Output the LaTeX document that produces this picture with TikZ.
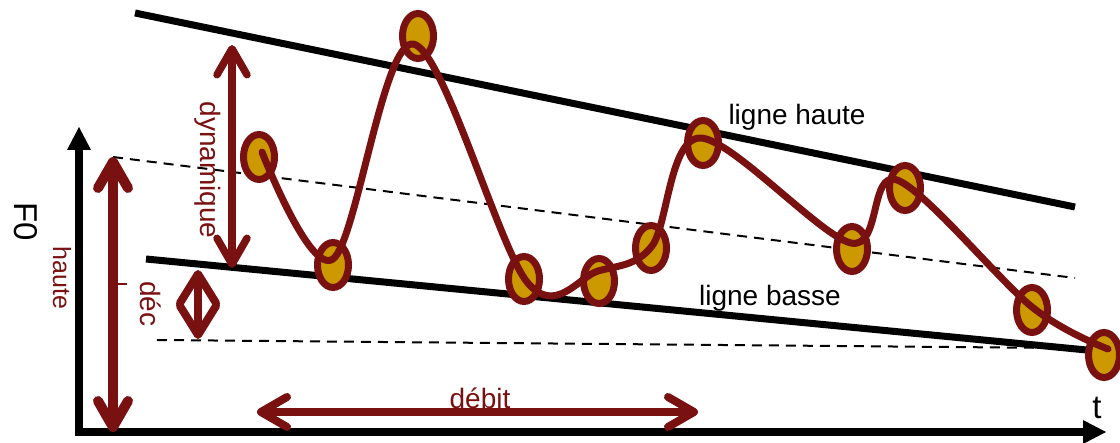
\documentclass[tikz,border=0pt]{standalone}
\usepackage{fontspec}
\setmainfont{Liberation Sans}
\usetikzlibrary{arrows.meta,shapes.geometric}
\definecolor{maroon}{RGB}{122,17,17}
\definecolor{gold}{RGB}{204,153,0}
\begin{document}
\begin{tikzpicture}[x=1pt,y=-1pt,
  axis/.style={line width=8pt,-{Triangle[length=23pt,width=24pt,line width=0pt]}},
  envline/.style={line width=7pt},
  refline/.style={line width=2pt,dash pattern=on 10pt off 7pt},
  dblarrow/.style={draw=maroon,line width=7.5pt,line cap=round,
    {Straight Barb[length=26pt,width=30pt,round]}-{Straight Barb[length=26pt,width=30pt,round]}},
  decarrow/.style={draw=maroon,line width=8pt,line cap=round,
    {Straight Barb[length=29pt,width=36pt,round]}-{Straight Barb[length=29pt,width=36pt,round]}},
  dot/.style={ellipse,draw=maroon,fill=gold,line width=7pt,minimum width=31pt,minimum height=45pt,inner sep=0pt},
  curve/.style={draw=maroon,line width=7pt,line cap=round,line join=round},
  lbl/.style={inner sep=0pt,font=\fontsize{28}{34}\selectfont},
  mlbl/.style={lbl,text=maroon}]
\useasboundingbox (0,0) rectangle (1120,443);
% reference (dashed) lines
\coordinate (du1) at (113,157);
\coordinate (du2) at (1075,278);
\coordinate (dl1) at (157,340);
\coordinate (dl2) at (1062,348);
\draw[refline] (du1) -- (du2);
\draw[refline] (dl1) -- (dl2);
% envelope lines
\coordinate (h1) at (135,13);
\coordinate (h2) at (1075,207);
\coordinate (b1) at (146,259);
\coordinate (b2) at (1097,351);
\draw[envline] (h1) -- (h2);
\draw[envline] (b1) -- (b2);
% axes
\coordinate (o1) at (79,436);
\coordinate (yt) at (79,127);
\coordinate (o2) at (75,432);
\coordinate (xt) at (1106,432);
\draw[axis] (o1) -- (yt);
\draw[axis] (o2) -- (xt);
% points
\node[dot] (p1) at (259,157) {};
\node[dot] (p2) at (333,265) {};
\node[dot] (p3) at (418,36) {};
\node[dot] (p4) at (524,279) {};
\node[dot] (p5) at (599,281) {};
\node[dot] (p6) at (651,248) {};
\node[dot] (p7) at (703,143) {};
\node[dot] (p8) at (852,249) {};
\node[dot] (p9) at (905,188) {};
\node[dot] (p10) at (1032,310) {};
\node[dot] (p11) at (1104,355) {};
% melodic curve
\draw[curve] plot[smooth,tension=0.55] coordinates {(262,152) (333,259) (413,44) (527,282) (598,271) (652,246) (700,138) (851,243) (897,180) (1032,307) (1108,349)};
% arrows
\coordinate (ha1) at (113,157);
\coordinate (ha2) at (113,432);
\draw[dblarrow,line width=10pt] (ha1) -- (ha2);
\coordinate (dy1) at (232,45);
\coordinate (dy2) at (232,268);
\draw[dblarrow] (dy1) -- (dy2);
\coordinate (dc1) at (198,270);
\coordinate (dc2) at (198,339);
\draw[decarrow] (dc1) -- (dc2);
\coordinate (db1) at (257,412);
\coordinate (db2) at (698,412);
\draw[dblarrow,line width=8pt] (db1) -- (db2);
\coordinate (tk1) at (118,284);
\coordinate (tk2) at (127,284);
\draw[maroon,line width=2.5pt] (tk1) -- (tk2);
% labels
\node[mlbl,rotate=-90] (ldyn) at (208,170) {dynamique};
\node[mlbl,rotate=-90,font=\fontsize{25}{30}\selectfont] (lhaute) at (62,278) {haute};
\node[mlbl,rotate=-90] (ldec) at (151,304) {déc};
\node[lbl,rotate=-90,font=\fontsize{33}{40}\selectfont] (lf0) at (26,222) {F0};
\node[mlbl] (ldeb) at (480,398) {débit};
\node[lbl] (lhl) at (797,117) {ligne haute};
\node[lbl] (lbl) at (770,298) {ligne basse};
\node[lbl,font=\fontsize{33}{40}\selectfont] (lt) at (1097,408) {t};
\end{tikzpicture}
\end{document}
